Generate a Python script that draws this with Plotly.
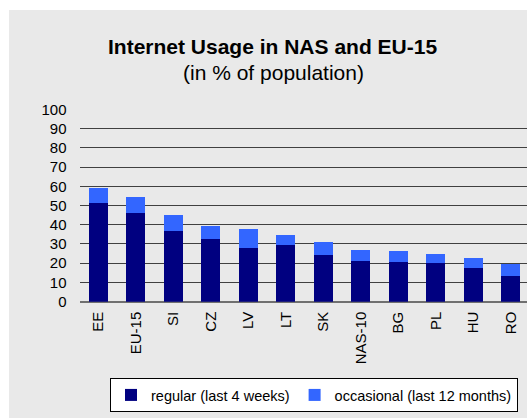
import plotly.graph_objects as go

countries = ["EE", "EU-15", "SI", "CZ", "LV", "LT", "SK", "NAS-10", "BG", "PL", "HU", "RO"]
regular = [51.4, 46.2, 36.8, 32.7, 28.0, 29.5, 24.3, 21.2, 20.7, 20.2, 17.6, 13.4]
total = [59.2, 54.5, 45.2, 39.4, 37.9, 34.7, 31.1, 26.9, 26.4, 24.8, 22.8, 19.6]
occasional = [round(t - r, 1) for t, r in zip(total, regular)]
y_ticks = list(range(0, 101, 10))

W, H = 527, 418
FONT = "Liberation Sans, Arial, sans-serif"

fig = go.Figure()
fig.add_trace(go.Bar(x=countries, y=regular, name="regular (last 4 weeks)",
                     marker=dict(color="#000080", line=dict(width=0))))
fig.add_trace(go.Bar(x=countries, y=occasional, name="occasional (last 12 months)",
                     marker=dict(color="#3366FF", line=dict(width=0))))

x0 = 79.5
cat_w = 37.5
x_units = (W - x0) / cat_w

fig.update_layout(
    width=W, height=H,
    barmode="stack", bargap=0.49,
    margin=dict(l=0, r=0, t=0, b=0, autoexpand=False),
    paper_bgcolor="white", plot_bgcolor="rgba(0,0,0,0)",
    font=dict(family=FONT, color="black", size=15),
    xaxis=dict(domain=[x0 / W, 1], range=[-0.5, -0.5 + x_units], automargin=False,
               tickangle=-90, tickfont=dict(size=15), showgrid=False,
               ticklabelstandoff=6, showline=False, zeroline=False),
    yaxis=dict(domain=[(H - 301.7) / H, (H - 109.3) / H], range=[0, 100], automargin=False,
               tickvals=y_ticks, tickfont=dict(size=15),
               showgrid=True, gridcolor="#404040", gridwidth=1,
               zeroline=True, zerolinecolor="#707070", zerolinewidth=1.5,
               ticklabelstandoff=12, fixedrange=True),
    showlegend=True,
    legend=dict(orientation="h", x=314 / W, xanchor="center",
                y=(H - 378) / H, yanchor="top",
                bgcolor="white", bordercolor="black", borderwidth=1,
                font=dict(size=14.5), traceorder="normal"),
    shapes=[dict(type="rect", xref="paper", yref="paper",
                 x0=9 / W, x1=1, y0=0, y1=(H - 10) / H,
                 fillcolor="#e9e9e9", line=dict(width=0), layer="below")],
    annotations=[
        dict(text="<b>Internet Usage in NAS and EU-15</b>", xref="paper", yref="paper",
             x=272 / W, y=(H - 46.5) / H, xanchor="center", yanchor="middle",
             showarrow=False, font=dict(size=21, family=FONT)),
        dict(text="(in % of population)", xref="paper", yref="paper",
             x=273 / W, y=(H - 73) / H, xanchor="center", yanchor="middle",
             showarrow=False, font=dict(size=21, family=FONT)),
    ],
)

fig.write_html("out.html", config={"displayModeBar": False},
               post_script="document.body.style.margin='0';document.body.style.overflow='hidden';")
